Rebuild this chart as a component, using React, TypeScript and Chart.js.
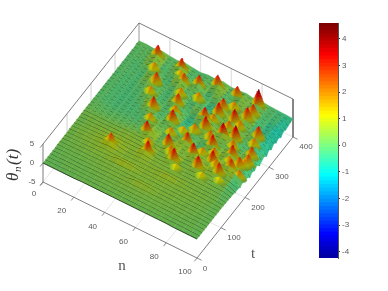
import React, { useEffect, useRef } from "react";
import { Chart, registerables } from "chart.js";
Chart.register(...registerables);

// Surface heights in tenths of theta, one row per t value, columns are nValues.
const nValues = [0,5,10,15,20,25,30,35,40,45,50,55,60,65,70,75,80,85,90,95,100];
const t400 = [3,4,2,6,3,1,5,2,0,3,2,5,1,2,4,0,3,1,0,-1,-2];
const t390 = [4,2,3,10,4,2,10,3,1,3,2,10,3,2,8,2,10,3,1,0,-3];
const t380 = [2,3,4,12,4,1,12,4,0,4,2,12,4,2,10,3,10,3,1,-1,-5];
const t370 = [3,2,3,12,4,0,11,5,0,8,1,10,5,-1,9,4,4,3,1,1,-8];
const t360 = [2,3,2,10,3,0,7,8,0,12,-1,6,6,-2,7,6,12,4,-2,0,-4];
const t350 = [3,1,2,8,4,0,4,12,2,8,-1,3,8,-3,8,4,10,5,-3,-1,-12];
const t340 = [2,2,1,4,7,0,2,10,4,3,6,-2,4,12,5,7,12,5,-3,0,-5];
const t330 = [3,1,1,2,9,2,0,7,6,-1,7,-3,2,10,4,10,10,3,-2,-1,-10];
const t320 = [2,3,1,1,12,5,0,3,8,-2,5,-2,-2,12,4,12,6,2,-2,0,-4];
const t310 = [3,2,2,1,9,6,0,2,9,-1,4,5,3,10,3,10,6,2,10,3,-12];
const t300 = [2,1,1,1,6,7,1,1,12,2,3,9,5,8,2,7,8,3,9,4,-5];
const t290 = [3,2,1,1,3,8,2,0,9,5,-2,6,12,7,2,9,9,2,5,5,-14];
const t280 = [2,3,0,1,2,7,4,0,5,8,-3,3,10,10,3,10,13,5,-1,7,-6];
const t270 = [3,1,1,1,1,6,8,1,2,9,-3,-2,5,13,5,13,11,6,-2,8,-10];
const t260 = [2,2,0,1,1,4,12,3,1,11,2,-4,5,10,4,9,6,7,-2,12,-15];
const t250 = [3,2,1,0,1,2,9,5,-1,13,4,-4,6,6,9,4,5,6,3,9,-5];
const t240 = [2,3,0,1,1,1,6,7,-1,10,5,-3,5,3,8,7,4,9,3,8,-12];
const t230 = [3,1,1,1,1,0,3,8,3,5,7,-2,6,-1,5,13,4,13,5,9,-7];
const t220 = [2,2,0,0,1,1,1,7,6,2,7,2,8,-1,3,9,4,9,6,10,-14];
const t210 = [3,2,1,1,1,1,1,5,9,1,5,4,12,3,3,5,7,6,7,7,-5];
const t200 = [2,3,1,2,2,2,2,3,12,1,5,7,8,5,4,4,13,5,12,6,-10];
const t190 = [3,2,2,2,2,2,3,3,13,3,4,10,6,6,13,5,8,5,8,10,-3];
const t180 = [3,3,3,3,3,4,4,4,9,5,3,13,6,4,9,7,6,12,6,5,-8];
const t170 = [3,4,4,4,4,5,6,5,6,6,4,9,9,4,6,13,5,8,5,3,-4];
const t160 = [3,4,4,4,5,5,6,6,5,8,4,5,13,5,4,8,6,5,4,3,-5];
const t150 = [2,4,4,5,5,6,6,6,5,10,5,4,9,5,4,5,6,4,4,3,-2];
const t140 = [2,3,4,5,6,7,6,6,6,12,5,4,5,5,4,4,5,4,3,3,-2];
const t130 = [2,3,4,5,6,9,7,5,5,8,5,5,4,5,4,4,4,4,3,2,-1];
const t120 = [2,3,4,5,7,12,8,5,5,6,5,4,4,4,4,4,4,3,3,2,-1];
const t110 = [2,3,4,4,5,8,6,4,4,5,5,5,7,8,6,4,3,3,3,2,0];
const t100 = [1,2,3,4,4,5,4,4,4,4,4,4,5,5,4,4,3,3,2,2,0];
const t90 = [1,2,2,3,4,4,5,9,9,7,4,4,4,4,3,3,3,3,2,1,0];
const t80 = [1,2,2,3,3,3,3,4,4,4,4,4,4,3,3,3,3,2,2,1,0];
const t70 = [1,1,2,2,2,3,3,3,3,3,3,3,3,3,3,3,2,2,2,1,0];
const t60 = [1,1,1,2,2,2,3,3,3,3,7,7,6,3,3,3,2,2,2,1,0];
const t50 = [0,1,1,1,2,2,2,3,3,3,3,3,3,3,3,2,2,2,1,1,0];
const t40 = [0,1,1,1,1,2,2,2,2,3,3,3,3,2,2,2,2,2,1,1,0];
const t30 = [0,0,1,1,1,1,2,2,2,2,2,2,2,2,2,2,2,1,1,1,0];
const t20 = [0,0,1,1,1,1,1,2,2,2,2,2,2,2,2,1,1,1,1,1,0];
const t10 = [0,0,0,1,1,1,1,1,1,1,1,1,1,1,1,1,1,1,1,0,0];
const t0 = [0,0,0,0,0,1,1,1,1,1,1,1,1,1,1,1,1,0,0,0,0];
const tValues = [400,390,380,370,360,350,340,330,320,310,300,290,280,270,260,250,240,230,220,210,200,190,180,170,160,150,140,130,120,110,100,90,80,70,60,50,40,30,20,10,0];
const rows = [t400,t390,t380,t370,t360,t350,t340,t330,t320,t310,t300,t290,t280,t270,t260,t250,t240,t230,t220,t210,t200,t190,t180,t170,t160,t150,t140,t130,t120,t110,t100,t90,t80,t70,t60,t50,t40,t30,t20,t10,t0];

// Peaks: position and height
const peakN = [15,31,45,54,67,80,24,37,32,42,46,38,25,46,53,61,61,68,75,60,64,65,65,75,80,81,75,82,92,74,80,87,96,87,91,94,97,98];
const peakT = [384,381,363,383,381,386,320,352,257,295,247,191,125,144,185,212,156,192,167,291,269,317,336,319,340,357,271,278,309,234,196,234,256,177,202,218,235,192];
const peakZ = [3.5,3.5,3.2,3.5,3.3,4.6,3.2,3,3.4,3.2,3.6,3.5,3,3.6,3.6,3.4,3.7,3.6,3.6,3.5,3.7,3.7,3.3,3.8,3.5,3.2,4,4.1,3.4,3.6,3.7,3.5,3.1,3.4,3.2,3,2.9,2.5];
// Lower shoulders along the ridges between the peaks
const ridgeN = [18,25,35,43,33,40,44,50,57,50,60,65,70,78,83,70,75,80,84,88,93,96,65,80,90,55,72];
const ridgeT = [350,290,225,165,365,320,272,215,170,330,250,295,250,215,190,350,295,310,255,215,285,225,140,150,160,235,205];
const ridgeZ = [2.2,2.2,2.3,2.2,2,2.3,2.4,2.3,2.5,2.3,2.4,2.4,2.6,2.5,2.4,2.3,2.6,2.4,2.5,2.3,2.4,2.2,1.6,1.7,1.6,2,2.2];

const nTicks = [0,20,40,60,80,100];
const tTicks = [0,100,200,300,400];
const zTicks = [-5,0,5];
const barTicks = [-4,-3,-2,-1,0,1,2,3,4];
const barMin = -4.24, barMax = 4.6, barLevels = 64;

const project = (n: number, t: number, z: number) => ({
  x: 43 + n * 1.54 + t * 0.24,
  y: 163 + n * 0.76 - t * 0.3025 - z * 3.8,
});

const jet = (z: number, shade = 1) => {
  const v = Math.max(0, Math.min(1, (z + 4.5) / 9));
  const f = (a: number) => Math.max(0, Math.min(1, 1.5 - Math.abs(4 * v - a)));
  return `rgb(${Math.round(f(3) * 255 * shade)},${Math.round(f(2) * 255 * shade)},${Math.round(f(1) * 255 * shade)})`;
};

const line = (pts: any[], color: string, width: number, dash?: number[]) => ({
  data: pts, showLine: true, fill: false, pointRadius: 0, borderColor: color, borderWidth: width,
  borderDash: dash || [], tension: 0,
});
const poly = (pts: any[], col: string) => ({
  data: [...pts, pts[0]], showLine: true, fill: "shape", backgroundColor: col, borderColor: col, borderWidth: 0.4, pointRadius: 0, tension: 0,
});

function peakLayers(n: number, t: number, z: number) {
  const out: any[] = [];
  const base = 0.5, layers = 8, wn = 4.6, wt = 24;
  for (let l = 0; l < layers; l++) {
    const a = l / layers, b = (l + 1) / layers;
    const s = 1 - a, s2 = 1 - b;
    const za = base + (z - base) * a, zb = base + (z - base) * b;
    const lo = project(n - wn * s, t, za), ro = project(n + wn * s, t, za), fr = project(n, t - wt * s, za);
    const li = project(n - wn * s2, t, zb), ri = project(n + wn * s2, t, zb), fi = project(n, t - wt * s2, zb);
    const col = (za + zb) / 2 - 0.1;
    const lift = 0.2 * a;
    out.push(poly([lo, fr, fi, li], jet(col, 0.74 + lift)));
    out.push(poly([fr, ro, ri, fi], jet(col, 0.6 + lift)));
  }
  return out;
}

function buildDatasets() {
  const out: any[] = [];
  const wall = "#e4e4e4";
  for (const t of tTicks.slice(1, 4)) out.push(line([project(0, t, 5), project(0, t, -5), project(100, t, -5)], wall, 1));
  for (const n of nTicks.slice(1, 5)) out.push(line([project(n, 400, 5), project(n, 400, -5), project(n, 0, -5)], wall, 1));
  out.push(line([project(0, 400, 5), project(0, 400, -5)], "#c4c4c4", 1));
  out.push(line([project(0, 400, -5), project(100, 400, -5)], wall, 1));
  out.push(line([project(0, 0, -5), project(0, 400, -5)], wall, 1));
  const box = "#6e6e6e";
  out.push(line([project(0, 0, -5), project(0, 0, 5), project(0, 400, 5), project(100, 400, 5), project(100, 400, -5)], box, 0.9));
  for (let i = 0; i < rows.length - 1; i++) {
    for (let j = 0; j < nValues.length - 1; j++) {
      const a = rows[i][j] / 10, b = rows[i][j + 1] / 10, c = rows[i + 1][j + 1] / 10, d = rows[i + 1][j] / 10;
      const avg = (a + b + c + d) / 4;
      const dn = (b + c - a - d) / 2, dt = (a + b - c - d) / 2;
      const shade = Math.max(0.5, Math.min(0.82, 0.68 - 0.05 * dn - 0.03 * dt));
      const ramp = Math.max(0, Math.min(1, (tValues[i] - 100) / 140));
      const offset = 0.1 - 0.4 * ramp;
      out.push(poly([
        project(nValues[j], tValues[i], a), project(nValues[j + 1], tValues[i], b),
        project(nValues[j + 1], tValues[i + 1], c), project(nValues[j], tValues[i + 1], d),
      ], jet(avg + offset, shade)));
    }
    const next = i + 1;
    const pts = nValues.map((n, j) => project(n, tValues[next], rows[next][j] / 10));
    const upper = tValues[next] > 170;
    out.push(line(pts, "rgba(10,20,5,0.8)", upper ? 0.8 : 0.9, upper ? [4, 3] : undefined));
    ridgeN.forEach((_, k) => {
      if (ridgeT[k] <= tValues[i] && ridgeT[k] > tValues[next]) out.push(...peakLayers(ridgeN[k], ridgeT[k], ridgeZ[k]));
    });
    peakN.forEach((_, k) => {
      if (peakT[k] <= tValues[i] && peakT[k] > tValues[next]) out.push(...peakLayers(peakN[k], peakT[k], peakZ[k]));
    });
  }
  out.push(line([project(0, 0, -5), project(100, 0, -5), project(100, 400, -5)], box, 0.9));
  for (const n of nTicks) out.push(line([project(n, 0, -5), project(n, -11, -5)], box, 0.8));
  for (const t of tTicks) out.push(line([project(100, t, -5), project(103, t, -5)], box, 0.8));
  for (const z of zTicks) out.push(line([project(0, 0, z), project(0, -12, z)], box, 0.8));
  return out.reverse();
}

const labelsPlugin = {
  id: "labels3d",
  afterDraw(chart: any) {
    const { ctx, scales } = chart;
    const px = (p: { x: number; y: number }) => [scales.x.getPixelForValue(p.x), scales.y.getPixelForValue(p.y)];
    ctx.save();
    ctx.fillStyle = "#5a5a5a";
    ctx.font = '8px "Liberation Sans"';
    ctx.textAlign = "center";
    ctx.textBaseline = "middle";
    for (const n of nTicks) {
      const [x, y] = px(project(n, 0, -5));
      ctx.fillText(String(n), x + (n === 0 ? -9 : -12), y + (n === 0 ? 12 : 14));
    }
    for (const t of tTicks.slice(0)) {
      const [x, y] = px(project(100, t, -5));
      ctx.fillText(String(t), x + (t === 0 ? 8 : 13), y + (t === 0 ? 11 : 10));
    }
    for (const z of zTicks) {
      const [x, y] = px(project(0, 0, z));
      ctx.fillText(String(z), x - 11, y);
    }
    ctx.fillStyle = "#555";
    ctx.font = '15px "Liberation Serif"';
    ctx.fillText("n", 122, 266);
    ctx.fillText("t", 253, 254);
    ctx.translate(14, 164);
    ctx.rotate(-Math.PI / 2);
    ctx.fillStyle = "#333";
    ctx.font = 'italic 17px "Liberation Serif"';
    ctx.textAlign = "left";
    ctx.fillText("\u03B8", -17, 0);
    ctx.font = 'italic 11px "Liberation Serif"';
    ctx.fillText("n", -8, 4);
    ctx.font = 'italic 17px "Liberation Serif"';
    ctx.fillText("(t)", -1, 0);
    ctx.restore();
  },
};

export default function App() {
  const mainRef = useRef<HTMLCanvasElement>(null);
  const barRef = useRef<HTMLCanvasElement>(null);
  useEffect(() => {
    const main = new Chart(mainRef.current!, {
      type: "scatter",
      data: { datasets: buildDatasets() },
      options: {
        animation: false, responsive: false, events: [],
        layout: { padding: 0 },
        plugins: { legend: { display: false }, tooltip: { enabled: false } },
        scales: {
          x: { type: "linear", min: 0, max: 388, display: false },
          y: { type: "linear", min: 0, max: 291, reverse: true, display: false },
        },
      },
      plugins: [labelsPlugin],
    } as any);
    const step = (barMax - barMin) / barLevels;
    const levels = Array.from({ length: barLevels }, (_, i) => barMin + i * step);
    const bar = new Chart(barRef.current!, {
      type: "bar",
      data: {
        labels: ["theta"],
        datasets: levels.map((lo) => ({
          data: [[lo, lo + step + 0.01]],
          backgroundColor: jet(lo + step / 2),
          borderWidth: 0, barPercentage: 1, categoryPercentage: 1, grouped: false,
        })),
      },
      options: {
        animation: false, responsive: false, events: [],
        layout: { padding: { top: 23, bottom: 33, left: 0, right: 0 } },
        plugins: { legend: { display: false }, tooltip: { enabled: false } },
        scales: {
          x: { display: false },
          y: {
            position: "right", min: barMin, max: barMax,
            afterFit: (s: any) => { s.width = 30; },
            afterBuildTicks: (s: any) => { s.ticks = barTicks.map((v) => ({ value: v })); },
            grid: { drawOnChartArea: false, drawTicks: true, tickLength: 2, color: "#333" },
            border: { display: true, color: "#555" },
            ticks: { color: "#5a5a5a", font: { family: "Liberation Sans", size: 8 }, padding: 2 },
          },
        },
      },
    } as any);
    return () => { main.destroy(); bar.destroy(); };
  }, []);
  const soft = { position: "absolute" as const, top: 0, filter: "blur(0.4px)" };
  return (
    <div style={{ position: "fixed", left: 0, top: 0, width: 388, height: 291, background: "#fff", overflow: "hidden" }}>
      <canvas ref={mainRef} width={388} height={291} style={{ ...soft, left: 0 }} />
      <canvas ref={barRef} width={49} height={291} style={{ ...soft, left: 319 }} />
    </div>
  );
}
